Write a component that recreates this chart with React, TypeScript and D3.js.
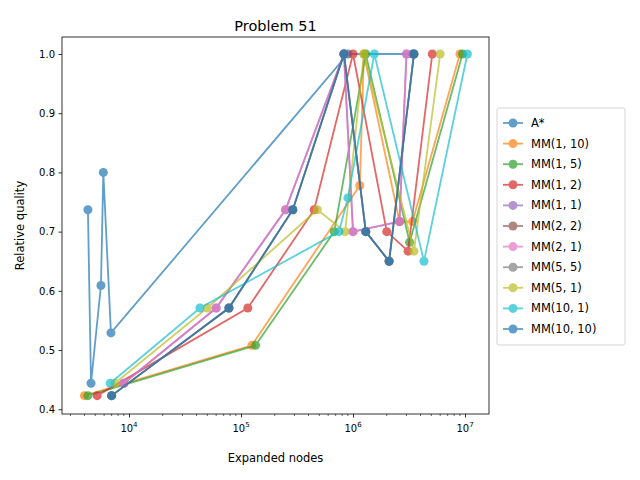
import React, { useEffect, useRef } from 'react';
import * as d3 from 'd3';

const seriesNames = ['A*', 'MM(1, 10)', 'MM(1, 5)', 'MM(1, 2)', 'MM(1, 1)', 'MM(2, 2)', 'MM(2, 1)', 'MM(5, 5)', 'MM(5, 1)', 'MM(10, 1)', 'MM(10, 10)'];
const colors = ['#1f77b4', '#ff7f0e', '#2ca02c', '#d62728', '#9467bd', '#8c564b', '#e377c2', '#7f7f7f', '#bcbd22', '#17becf', '#1f77b4'];

const aStar: [number, number][] = [[4300, 0.737], [4580, 0.444], [5620, 0.609], [5900, 0.8], [6900, 0.529], [9e5, 1.0], [3.4e6, 1.0]];
const mm1_10: [number, number][] = [[4000, 0.423], [1.25e5, 0.508], [1.15e6, 0.778], [1.25e6, 1.0], [2.6e6, 0.717], [3.4e6, 0.717], [9e6, 1.0]];
const mm1_5: [number, number][] = [[4300, 0.423], [1.35e5, 0.508], [6.8e5, 0.7], [1.3e6, 1.0], [3.2e6, 0.682], [9.5e6, 1.0]];
const mm1_2: [number, number][] = [[5200, 0.423], [1.15e5, 0.571], [4.5e5, 0.737], [1.0e6, 1.0], [2.0e6, 0.7], [3.1e6, 0.667], [5.1e6, 1.0]];
const mm1_1: [number, number][] = [[9000, 0.444], [6e4, 0.571], [2.5e5, 0.737], [8.3e5, 1.0], [1.0e6, 0.7], [2.6e6, 0.717], [3.0e6, 1.0]];
const mm2_2: [number, number][] = [[7000, 0.423], [7.8e4, 0.571], [2.9e5, 0.737], [8.3e5, 1.0], [1.3e6, 0.7], [2.1e6, 0.65], [3.5e6, 1.0]];
const mm2_1: [number, number][] = [[9000, 0.444], [6e4, 0.571], [2.5e5, 0.737], [8.3e5, 1.0], [1.0e6, 0.7], [2.6e6, 0.717], [3.0e6, 1.0]];
const mm5_5: [number, number][] = [[7000, 0.423], [7.8e4, 0.571], [2.9e5, 0.737], [8.3e5, 1.0], [1.3e6, 0.7], [2.1e6, 0.65], [3.5e6, 1.0]];
const mm5_1: [number, number][] = [[7500, 0.444], [5e4, 0.571], [4.8e5, 0.737], [8.5e5, 0.7], [1.25e6, 1.0], [3.5e6, 0.667], [6e6, 1.0]];
const mm10_1: [number, number][] = [[6800, 0.444], [4.3e4, 0.571], [7.5e5, 0.7], [9e5, 0.757], [1.55e6, 1.0], [4.3e6, 0.65], [1.05e7, 1.0]];
const mm10_10: [number, number][] = [[7000, 0.423], [7.8e4, 0.571], [2.9e5, 0.737], [8.3e5, 1.0], [1.3e6, 0.7], [2.1e6, 0.65], [3.5e6, 1.0]];

const allSeries = [aStar, mm1_10, mm1_5, mm1_2, mm1_1, mm2_2, mm2_1, mm5_5, mm5_1, mm10_1, mm10_10];
const yTicks = [0.4, 0.5, 0.6, 0.7, 0.8, 0.9, 1.0];
const xTicks = [1e4, 1e5, 1e6, 1e7];

const App: React.FC = () => {
  const ref = useRef<SVGSVGElement | null>(null);

  useEffect(() => {
    if (!ref.current) return;
    const svg = d3.select(ref.current);
    svg.selectAll('*').remove();
    const left = 62, right = 489, top = 37, bottom = 414;

    const x = d3.scaleLog().domain([10 ** 3.402, 10 ** 7.214]).range([left, right]);
    const y = d3.scaleLinear().domain([0.392, 1.0287]).range([bottom, top]);

    const font = 'DejaVu Sans, sans-serif';
    const g = svg.append('g').style('font-family', font);

    const xAxis = g.append('g').attr('transform', `translate(0,${bottom})`)
      .call(d3.axisBottom(x).tickValues(xTicks).tickFormat(() => '').tickSize(3.5).tickSizeOuter(0));
    const minors: number[] = [];
    for (let e = 3; e <= 7; e++) for (let m = 2; m <= 9; m++) {
      const v = m * 10 ** e;
      if (v > x.domain()[0] && v < x.domain()[1]) minors.push(v);
    }
    g.append('g').selectAll('line').data(minors).enter().append('line')
      .attr('x1', d => x(d)).attr('x2', d => x(d)).attr('y1', bottom).attr('y2', bottom + 2)
      .attr('stroke', '#000').attr('stroke-width', 0.6);
    xAxis.select('.domain').remove();
    xAxis.selectAll('line').attr('stroke-width', 0.8);
    xTicks.forEach(t => {
      const e = Math.round(Math.log10(t));
      const tx = g.append('text').attr('x', x(t)).attr('y', bottom + 18).attr('text-anchor', 'middle')
        .attr('font-size', 10).text('10');
      tx.append('tspan').attr('font-size', 7).attr('dy', -5).text(String(e));
    });

    const yAxis = g.append('g').attr('transform', `translate(${left},0)`)
      .call(d3.axisLeft(y).tickValues(yTicks).tickFormat(d3.format('.1f')).tickSize(3.5).tickPadding(3.5));
    yAxis.select('.domain').remove();
    yAxis.selectAll('text').attr('font-size', 10).style('font-family', font);
    yAxis.selectAll('line').attr('stroke-width', 0.8);

    const line = d3.line<[number, number]>().x(d => x(d[0])).y(d => y(d[1]));
    allSeries.forEach((s, i) => {
      const sg = g.append('g').attr('opacity', 0.7);
      sg.append('path').attr('d', line(s)).attr('fill', 'none').attr('stroke', colors[i]).attr('stroke-width', 1.8);
      sg.selectAll('circle').data(s).enter().append('circle')
        .attr('cx', d => x(d[0])).attr('cy', d => y(d[1])).attr('r', 4.5).attr('fill', colors[i]);
    });

    g.append('rect').attr('x', left).attr('y', top).attr('width', right - left).attr('height', bottom - top)
      .attr('fill', 'none').attr('stroke', '#000').attr('stroke-width', 0.8);

    g.append('text').attr('x', (left + right) / 2).attr('y', 31).attr('text-anchor', 'middle')
      .attr('font-size', 14.5).text('Problem 51');
    g.append('text').attr('x', (left + right) / 2).attr('y', 462).attr('text-anchor', 'middle')
      .attr('font-size', 11.5).text('Expanded nodes');
    g.append('text').attr('transform', `translate(24,${(top + bottom) / 2}) rotate(-90)`)
      .attr('text-anchor', 'middle').attr('font-size', 11.5).text('Relative quality');

    const lx = 497, ly = 108;
    g.append('rect').attr('x', lx).attr('y', ly).attr('width', 128).attr('height', 237).attr('rx', 2)
      .attr('fill', '#fff').attr('stroke', '#ccc').attr('opacity', 0.8);
    seriesNames.forEach((n, i) => {
      const yy = ly + 15 + i * 20.6;
      const lg = g.append('g').attr('opacity', 0.7);
      lg.append('line').attr('x1', lx + 6).attr('x2', lx + 26).attr('y1', yy).attr('y2', yy)
        .attr('stroke', colors[i]).attr('stroke-width', 1.8);
      lg.append('circle').attr('cx', lx + 16).attr('cy', yy).attr('r', 4.5).attr('fill', colors[i]);
      g.append('text').attr('x', lx + 34).attr('y', yy + 4).attr('font-size', 11.5).text(n);
    });
  }, []);

  return <svg ref={ref} width={640} height={480} style={{ position: 'absolute', left: 0, top: 0, background: '#fff' }} />;
};

export default App;
